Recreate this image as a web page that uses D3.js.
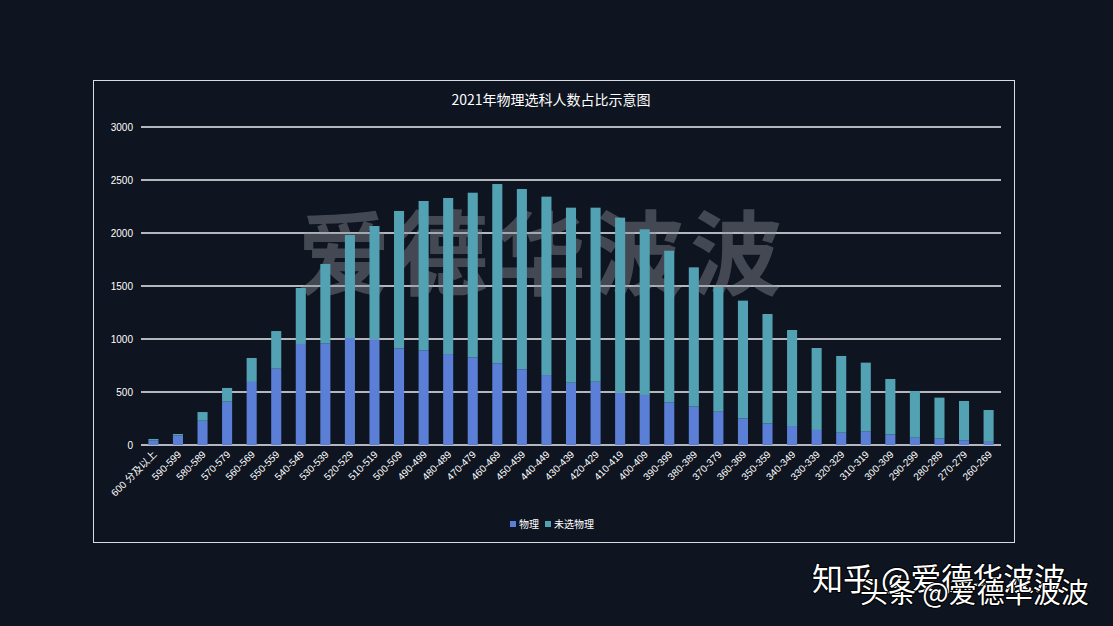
<!DOCTYPE html>
<html><head><meta charset="utf-8">
<script src="https://cdn.jsdelivr.net/npm/d3@7/dist/d3.min.js"></script>
<style>
html,body{margin:0;padding:0;background:#0e1420;}
svg{display:block;font-family:"Noto Sans CJK SC","Noto Sans",sans-serif;}
</style></head>
<body>
<svg id="c" width="1113" height="626"></svg>
<script>
const categories = ["600 分及以上","590-599","580-589","570-579","560-569","550-559","540-549","530-539","520-529","510-519","500-509","490-499","480-489","470-479","460-469","450-459","440-449","430-439","420-429","410-419","400-409","390-399","380-389","370-379","360-369","350-359","340-349","330-339","320-329","310-319","300-309","290-299","280-289","270-279","260-269"];
const totals = [57,104,311,538,821,1075,1481,1708,1981,2066,2208,2302,2330,2380,2462,2415,2343,2239,2239,2145,2035,1833,1676,1490,1362,1236,1085,915,840,777,623,509,447,415,330];
const physics = [42,90,229,409,595,720,953,960,1009,997,912,893,858,827,771,714,660,588,597,494,472,403,362,314,251,204,179,142,116,130,100,69,60,45,30];
const notPhysics = totals.map((t,i)=>t-physics[i]);
const seriesNames = ["物理","未选物理"];
const yTicks = [0,500,1000,1500,2000,2500,3000];
const title = "2021年物理选科人数占比示意图";
const colors = ["#5b7fd6","#53a2b3"];

const svg = d3.select("#c");
svg.append("rect").attr("x",93.5).attr("y",80.5).attr("width",921).attr("height",462)
  .attr("fill","none").attr("stroke","#d8dce3").attr("stroke-width",1);

const x = d3.scaleBand().domain(categories).range([141,1001]).paddingInner(0.59).paddingOuter(0.3);
const y = d3.scaleLinear().domain([0,3000]).range([445,127]);

svg.append("g").selectAll("line").data(yTicks).join("line")
  .attr("x1",141).attr("x2",1001).attr("y1",d=>y(d)).attr("y2",d=>y(d))
  .attr("stroke","#eceef2").attr("stroke-width",1.5);

const yAxis = d3.axisLeft(y).tickValues(yTicks).tickSize(0).tickPadding(8).tickFormat(d3.format("d"));
const ga = svg.append("g").attr("transform","translate(141,0)").call(yAxis);
ga.attr("font-family","Liberation Sans, Arial, sans-serif");
ga.select(".domain").remove();
ga.selectAll("text").attr("fill","#ffffff").attr("font-size",10);

svg.append("text").attr("x",543).attr("y",288).attr("text-anchor","middle")
  .attr("font-size",92).attr("font-weight","bold").attr("letter-spacing",6)
  .attr("fill","rgba(140,145,155,0.42)").text("爱德华波波");

const data = categories.map((c,i)=>({cat:c,"物理":physics[i],"未选物理":notPhysics[i]}));
const stack = d3.stack().keys(seriesNames)(data);
svg.append("g").selectAll("g").data(stack).join("g")
  .attr("fill",(d,i)=>colors[i])
  .selectAll("rect").data(d=>d).join("rect")
  .attr("x",d=>x(d.data.cat)).attr("width",x.bandwidth())
  .attr("y",d=>y(d[1])).attr("height",d=>y(d[0])-y(d[1]));

const xAxis = d3.axisBottom(x).tickSize(0).tickPadding(0);
const gx = svg.append("g").attr("transform","translate(0,445)").call(xAxis);
gx.attr("font-family","Liberation Sans, Noto Sans CJK SC, sans-serif");
gx.select(".domain").remove();
gx.selectAll("text").attr("fill","#ffffff").attr("font-size",10)
  .attr("text-anchor","end").attr("dy",0)
  .attr("transform","translate(4,10) rotate(-45)");

svg.append("text").attr("x",551).attr("y",105).attr("text-anchor","middle")
  .attr("font-size",14).attr("fill","#ffffff").text(title);

const lg = svg.append("g").attr("transform","translate(510,525)");
let lx = 0;
seriesNames.forEach((n,i)=>{
  lg.append("rect").attr("x",lx).attr("y",-4).attr("width",6).attr("height",6).attr("fill",colors[i]);
  const t = lg.append("text").attr("x",lx+9).attr("y",3).attr("font-size",10).attr("fill","#ffffff").text(n);
  lx += 9 + t.node().getComputedTextLength() + 6;
});

svg.append("text").attr("x",812).attr("y",590).attr("font-size",31)
  .attr("fill","#ffffff").attr("stroke","#000").attr("stroke-width",2).attr("paint-order","stroke")
  .text("知乎 @爱德华波波");
svg.append("text").attr("x",860).attr("y",603).attr("font-size",28)
  .attr("fill","#ffffff").attr("stroke","#000").attr("stroke-width",2).attr("paint-order","stroke")
  .text("头条 @爱德华波波");
</script>
</body></html>
